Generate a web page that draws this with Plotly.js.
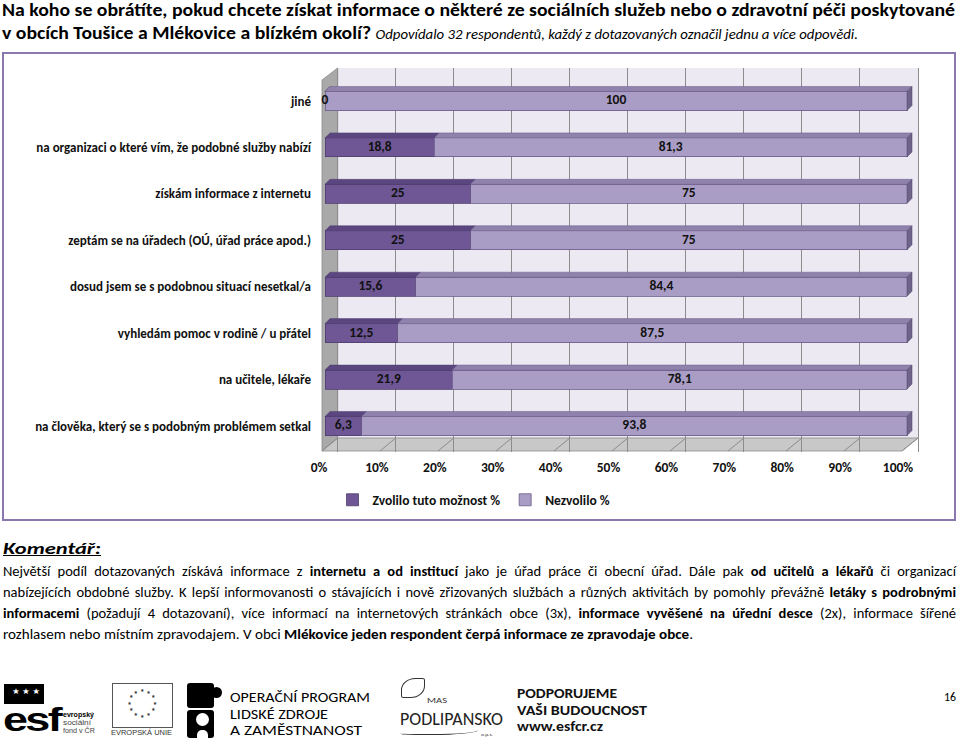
<!DOCTYPE html>
<html>
<head>
<meta charset="utf-8">
<script src="https://cdn.plot.ly/plotly-3.0.1.min.js"></script>
<style>
  body { margin: 0; background: #fff; }
  #page { position: relative; width: 960px; height: 739px; overflow: hidden;
          font-family: Carlito, 'Liberation Sans Narrow', 'DejaVu Sans Condensed', 'Liberation Sans', sans-serif; color: #000; }
  .ln { position: absolute; white-space: nowrap; transform-origin: 0 50%; display: inline-block; }
  #frame { position: absolute; left: 2px; top: 52px; width: 950px; height: 465px; border: 2px solid #8a77ad; }
  #chart { position: absolute; left: 0; top: 0; width: 960px; height: 739px; }
  .blk { position: absolute; background: #000; }
</style>
</head>
<body>
<div id="page">
  <div id="frame"></div>
  <div id="chart"></div>

  <div class="ln" data-c="10" data-h="20" data-w="953" style="left:2px;font-size:18px;font-weight:bold;">Na koho se obrátíte, pokud chcete získat informace o některé ze sociálních služeb nebo o zdravotní péči poskytované</div>
  <div class="ln" data-c="33" data-h="20" data-w="856" style="left:2px;font-size:18px;"><b>v obcích Toušice a Mlékovice a blízkém okolí?</b> <i style="font-size:13.5px;">Odpovídalo 32 respondentů, každý z dotazovaných označil jednu a více odpovědi.</i></div>

  <div class="ln" data-c="549" data-h="18" data-w="98" style="left:3px;font-size:15px;font-weight:bold;font-style:italic;text-decoration:underline;">Komentář:</div>
  <div class="ln" data-c="571" data-h="18" data-w="953" data-j="1" style="left:3px;font-size:14.5px;">Největší podíl dotazovaných získává informace z <b>internetu a od institucí</b> jako je úřad práce či obecní úřad. Dále pak <b>od učitelů a lékařů</b> či organizací</div>
  <div class="ln" data-c="592" data-h="18" data-w="953" data-j="1" style="left:3px;font-size:14.5px;">nabízejících obdobné služby. K lepší informovanosti o stávajících i nově zřizovaných službách a různých aktivitách by pomohly převážně <b>letáky s podrobnými</b></div>
  <div class="ln" data-c="613" data-h="18" data-w="953" data-j="1" style="left:3px;font-size:14.5px;"><b>informacemi</b> (požadují 4 dotazovaní), více informací na internetových stránkách obce (3x), <b>informace vyvěšené na úřední desce</b> (2x), informace šířené</div>
  <div class="ln" data-c="634" data-h="18" data-w="690" style="left:3px;font-size:14.5px;">rozhlasem nebo místním zpravodajem. V obci <b>Mlékovice jeden respondent čerpá informace ze zpravodaje obce</b>.</div>

  <div class="ln" data-c="697" data-h="16" data-w="12" style="left:944px;font-size:13px;">16</div>

  <!-- footer logos (approximations) -->
  <div class="blk" style="left:4px;top:684px;width:40px;height:20px;"></div>
  <div class="ln" data-c="691" data-h="9" data-w="28" style="left:12px;font-size:8px;color:#fff;">★ ★ ★</div>
  <div class="ln" data-c="719" data-h="34" data-w="57" style="left:3px;font-size:34px;font-weight:900;font-family:'Liberation Sans',sans-serif;letter-spacing:-2px;">esf</div>
  <div class="ln" data-c="715" data-h="8" data-w="31" style="left:63px;font-size:7px;font-weight:bold;font-family:'Liberation Sans',sans-serif;">evropský</div>
  <div class="ln" data-c="723" data-h="8" data-w="28" style="left:63px;font-size:7px;color:#444;font-family:'Liberation Sans',sans-serif;">sociální</div>
  <div class="ln" data-c="731" data-h="8" data-w="32" style="left:63px;font-size:7px;color:#444;font-family:'Liberation Sans',sans-serif;">fond v ČR</div>
  <div style="position:absolute;left:112px;top:683px;width:59px;height:43px;border:1px solid #555;"></div>
  <div id="eustars"></div>
  <div class="ln" data-c="732.5" data-h="8" data-w="61" style="left:111px;font-size:7.5px;color:#333;font-family:'Liberation Sans',sans-serif;">EVROPSKÁ UNIE</div>
  <div class="blk" style="left:187px;top:683px;width:27px;height:25px;border-radius:3px;"></div>
  <div class="blk" style="left:211px;top:687px;width:11px;height:11px;border-radius:50%;"></div>
  <div class="blk" style="left:187px;top:710px;width:27px;height:28px;border-radius:3px;"></div>
  <div style="position:absolute;left:196px;top:713px;width:13px;height:13px;border-radius:50%;background:#fff;"></div>
  <div style="position:absolute;left:197px;top:730px;width:11px;height:8px;border-radius:5px 5px 0 0;background:#fff;"></div>
  <div class="ln" data-c="698" data-h="16" data-w="140" style="left:230px;font-size:14px;">OPERAČNÍ PROGRAM</div>
  <div class="ln" data-c="714.5" data-h="16" data-w="98" style="left:230px;font-size:14px;">LIDSKÉ ZDROJE</div>
  <div class="ln" data-c="731" data-h="16" data-w="132" style="left:230px;font-size:14px;">A ZAMĚSTNANOST</div>
  <div style="position:absolute;left:401px;top:678px;width:22px;height:18px;border:1.5px solid #333;border-radius:60% 10% 60% 10%;"></div>
  <div class="ln" data-c="700.5" data-h="9" data-w="20" style="left:427px;font-size:8.5px;color:#333;">MAS</div>
  <div class="ln" data-c="718.5" data-h="20" data-w="103" style="left:400px;font-size:18px;color:#222;">PODLIPANSKO</div>
  <div style="position:absolute;left:400px;top:727px;width:78px;height:7px;border-bottom:1.5px solid #333;border-radius:0 0 60% 20%;"></div>
  <div class="ln" data-c="734" data-h="5" data-w="12" style="left:481px;font-size:4.5px;color:#333;">o.p.s.</div>
  <div class="ln" data-c="693" data-h="15" data-w="100" style="left:517px;font-size:13.5px;font-weight:bold;color:#111;">PODPORUJEME</div>
  <div class="ln" data-c="710" data-h="15" data-w="130" style="left:517px;font-size:13.5px;font-weight:bold;color:#111;">VAŠI BUDOUCNOST</div>
  <div class="ln" data-c="726.5" data-h="15" data-w="86" style="left:517px;font-size:13.5px;font-weight:bold;color:#111;">www.esfcr.cz</div>
</div>

<script>
// ---------------- data ----------------
const categories = [
  "jiné",
  "na organizaci o které vím, že podobné služby nabízí",
  "získám informace z internetu",
  "zeptám se na úřadech (OÚ, úřad práce apod.)",
  "dosud jsem se s podobnou situací nesetkal/a",
  "vyhledám pomoc v rodině / u přátel",
  "na učitele, lékaře",
  "na člověka, který se s podobným problémem setkal"
];
const zvolilo   = [0, 18.8, 25, 25, 15.6, 12.5, 21.9, 6.3];
const nezvolilo = [100, 81.3, 75, 75, 84.4, 87.5, 78.1, 93.8];
const seriesNames = ["Zvolilo tuto možnost %", "Nezvolilo %"];
const xTickValues = [0, 10, 20, 30, 40, 50, 60, 70, 80, 90, 100];
const xTickLabels = ["0%", "10%", "20%", "30%", "40%", "50%", "60%", "70%", "80%", "90%", "100%"];

// ---------------- styling ----------------
const FONT = "Carlito, 'Liberation Sans Narrow', 'DejaVu Sans Condensed', 'Liberation Sans', sans-serif";
const C_DARK = '#6f5796', C_DARK_TOP = '#5b4680';
const C_LIGHT = '#aa9dc5', C_LIGHT_TOP = '#8f82ad', C_CAP = '#6e6389';
const BAR_W = 0.41, DX = 0.86, DY = 0.108;

const idx = categories.map((c, i) => i);
const tot = idx.map(i => zvolilo[i] + nezvolilo[i]);
const zN = idx.map(i => zvolilo[i] / tot[i] * 100);
const fmt = v => String(v).replace('.', ',');

function topFaces(starts, ends) {
  const xs = [], ys = [];
  idx.forEach(i => {
    const y0 = i - BAR_W / 2, s = starts[i], e = ends[i];
    xs.push(s, e, e + DX, s + DX, s, null);
    ys.push(y0, y0, y0 - DY, y0 - DY, y0, null);
  });
  return {xs, ys};
}
const fDark = topFaces(idx.map(() => 0), zN);
const fLight = topFaces(zN, idx.map(() => 100));
const capX = [], capY = [];
idx.forEach(i => {
  const y0 = i - BAR_W / 2;
  capX.push(100, 100 + DX, 100 + DX, 100, 100, null);
  capY.push(y0, y0 - DY, y0 + BAR_W - DY, y0 + BAR_W, y0, null);
});

const traces = [
  {type: 'bar', orientation: 'h', name: seriesNames[0], x: zvolilo, y: idx, width: idx.map(() => BAR_W),
   marker: {color: C_DARK, line: {color: '#4f3d6e', width: 0.8}}, hoverinfo: 'skip'},
  {type: 'bar', orientation: 'h', name: seriesNames[1], x: nezvolilo, y: idx, width: idx.map(() => BAR_W),
   marker: {color: C_LIGHT, line: {color: '#6a5d88', width: 0.8}}, hoverinfo: 'skip'},
  {type: 'scatter', mode: 'lines', x: fDark.xs, y: fDark.ys, fill: 'toself', fillcolor: C_DARK_TOP,
   line: {width: 0.5, color: '#4f3d6e'}, showlegend: false, hoverinfo: 'skip'},
  {type: 'scatter', mode: 'lines', x: fLight.xs, y: fLight.ys, fill: 'toself', fillcolor: C_LIGHT_TOP,
   line: {width: 0.5, color: '#6a5d88'}, showlegend: false, hoverinfo: 'skip'},
  {type: 'scatter', mode: 'lines', x: capX, y: capY, fill: 'toself', fillcolor: C_CAP,
   line: {width: 0.5, color: '#4f4668'}, showlegend: false, hoverinfo: 'skip'},
  {type: 'scatter', mode: 'text', x: zN.map(v => v / 2), y: idx, text: zvolilo.map(fmt),
   textposition: 'middle center', textfont: {family: FONT, size: 13.5, color: '#111', weight: 'bold'},
   showlegend: false, hoverinfo: 'skip'},
  {type: 'scatter', mode: 'text', x: zN.map(v => v + (100 - v) / 2), y: idx, text: nezvolilo.map(fmt),
   textposition: 'middle center', textfont: {family: FONT, size: 13.5, color: '#111', weight: 'bold'},
   showlegend: false, hoverinfo: 'skip'},
  {type: 'scatter', x: [], y: [], xaxis: 'x2', showlegend: false, hoverinfo: 'skip'},
  {type: 'scatter', x: [], y: [], xaxis: 'x3', showlegend: false, hoverinfo: 'skip'}
];

// decoration (3-D walls) in pixel space converted to paper units
const PL = 318, PW = 602, PB = 452, PH = 384;
const P = (px, py) => ((px - PL) / PW).toFixed(5) + ',' + ((PB - py) / PH).toFixed(5);
const shapes = [
  {type: 'rect', xref: 'paper', yref: 'paper', x0: (337.7 - PL) / PW, x1: (918 - PL) / PW,
   y0: (PB - 438) / PH, y1: 1, fillcolor: '#ece9f2', line: {width: 0}, layer: 'below'},
  {type: 'path', xref: 'paper', yref: 'paper', layer: 'below',
   path: 'M' + P(337.7, 68) + 'L' + P(337.7, 438) + 'L' + P(322, 451) + 'L' + P(322, 80) + 'Z',
   fillcolor: '#a9a9a9', line: {color: '#8c8c8c', width: 0.8}},
  {type: 'path', xref: 'paper', yref: 'paper', layer: 'between',
   path: 'M' + P(337.7, 438) + 'L' + P(918, 438) + 'L' + P(902, 451) + 'L' + P(322, 451) + 'Z',
   fillcolor: '#c8c8c8', line: {color: '#8c8c8c', width: 0.8}}
];
xTickValues.forEach(v => {
  shapes.push({type: 'path', xref: 'paper', yref: 'paper', layer: 'between',
    path: 'M' + P(337.7 + 5.803 * v, 438) + 'L' + P(322 + 5.8 * v, 451), line: {color: '#8c8c8c', width: 1}});
});

const layout = {
  width: 960, height: 739,
  margin: {l: PL, r: 960 - PL - PW, t: PB - PH, b: 739 - PB, pad: 0},
  paper_bgcolor: 'rgba(0,0,0,0)', plot_bgcolor: 'rgba(0,0,0,0)',
  font: {family: FONT, size: 13, color: '#111'},
  barmode: 'stack', barnorm: 'percent',
  showlegend: true,
  legend: {orientation: 'h', traceorder: 'normal', x: (474 - PL) / PW, xanchor: 'center', y: (PB - 500) / PH, yanchor: 'middle',
           font: {family: FONT, size: 13.5, color: '#111', weight: 'bold'}, itemwidth: 30, bgcolor: 'rgba(0,0,0,0)'},
  xaxis: {range: [(PL - 325) / 5.82, (PL + PW - 325) / 5.82], showgrid: false, zeroline: false,
          showticklabels: false, showline: false, fixedrange: true},
  xaxis2: {overlaying: 'x', anchor: 'y', side: 'bottom', range: [(PL - 337.7) / 5.803, (PL + PW - 337.7) / 5.803],
           tick0: 0, dtick: 10, showgrid: true, gridcolor: '#8c8c8c', gridwidth: 1, zeroline: false,
           showticklabels: false, showline: false, ticks: '', fixedrange: true},
  xaxis3: {overlaying: 'x', anchor: 'y', side: 'bottom', range: [(PL - 319) / 5.79, (PL + PW - 319) / 5.79],
           tickmode: 'array', tickvals: xTickValues, ticktext: xTickLabels, showgrid: false, zeroline: false,
           showline: false, ticks: '', ticklabelstandoff: 5,
           tickfont: {family: FONT, size: 13.5, color: '#111', weight: 'bold'}, fixedrange: true},
  yaxis: {range: [(PB - 101) / 46.43, (PB - PH - 101) / 46.43], tickmode: 'array', tickvals: idx, ticktext: categories,
          showgrid: false, zeroline: false, showline: false, ticks: '', ticklabelstandoff: 6,
          tickfont: {family: FONT, size: 13, color: '#111', weight: 'bold'}, fixedrange: true},
  shapes: shapes
};

Plotly.newPlot('chart', traces, layout, {staticPlot: true, displayModeBar: false});

// EU stars ring
const ring = document.getElementById('eustars');
for (let k = 0; k < 12; k++) {
  const a = k / 12 * 2 * Math.PI;
  const s = document.createElement('div');
  s.textContent = '★';
  s.style.cssText = 'position:absolute;font-size:5px;line-height:5px;color:#333;left:' +
    (142.7 + 12.7 * Math.sin(a) - 2.5) + 'px;top:' + (703.3 - 12.7 * Math.cos(a) - 2.5) + 'px;';
  ring.appendChild(s);
}

// fit text lines to their measured widths in the reference
document.querySelectorAll('.ln').forEach(el => {
  const c = +el.dataset.c, h = +el.dataset.h, target = +el.dataset.w;
  el.style.lineHeight = h + 'px';
  el.style.top = (c - h / 2) + 'px';
  const w = el.getBoundingClientRect().width;
  if (el.dataset.j === '1' && w < target) {
    const n = (el.textContent.match(/ /g) || []).length;
    el.style.wordSpacing = ((target - w) / n) + 'px';
  } else if (w > 0) {
    el.style.transform = 'scaleX(' + (target / w) + ')';
  }
});
</script>
</body>
</html>
